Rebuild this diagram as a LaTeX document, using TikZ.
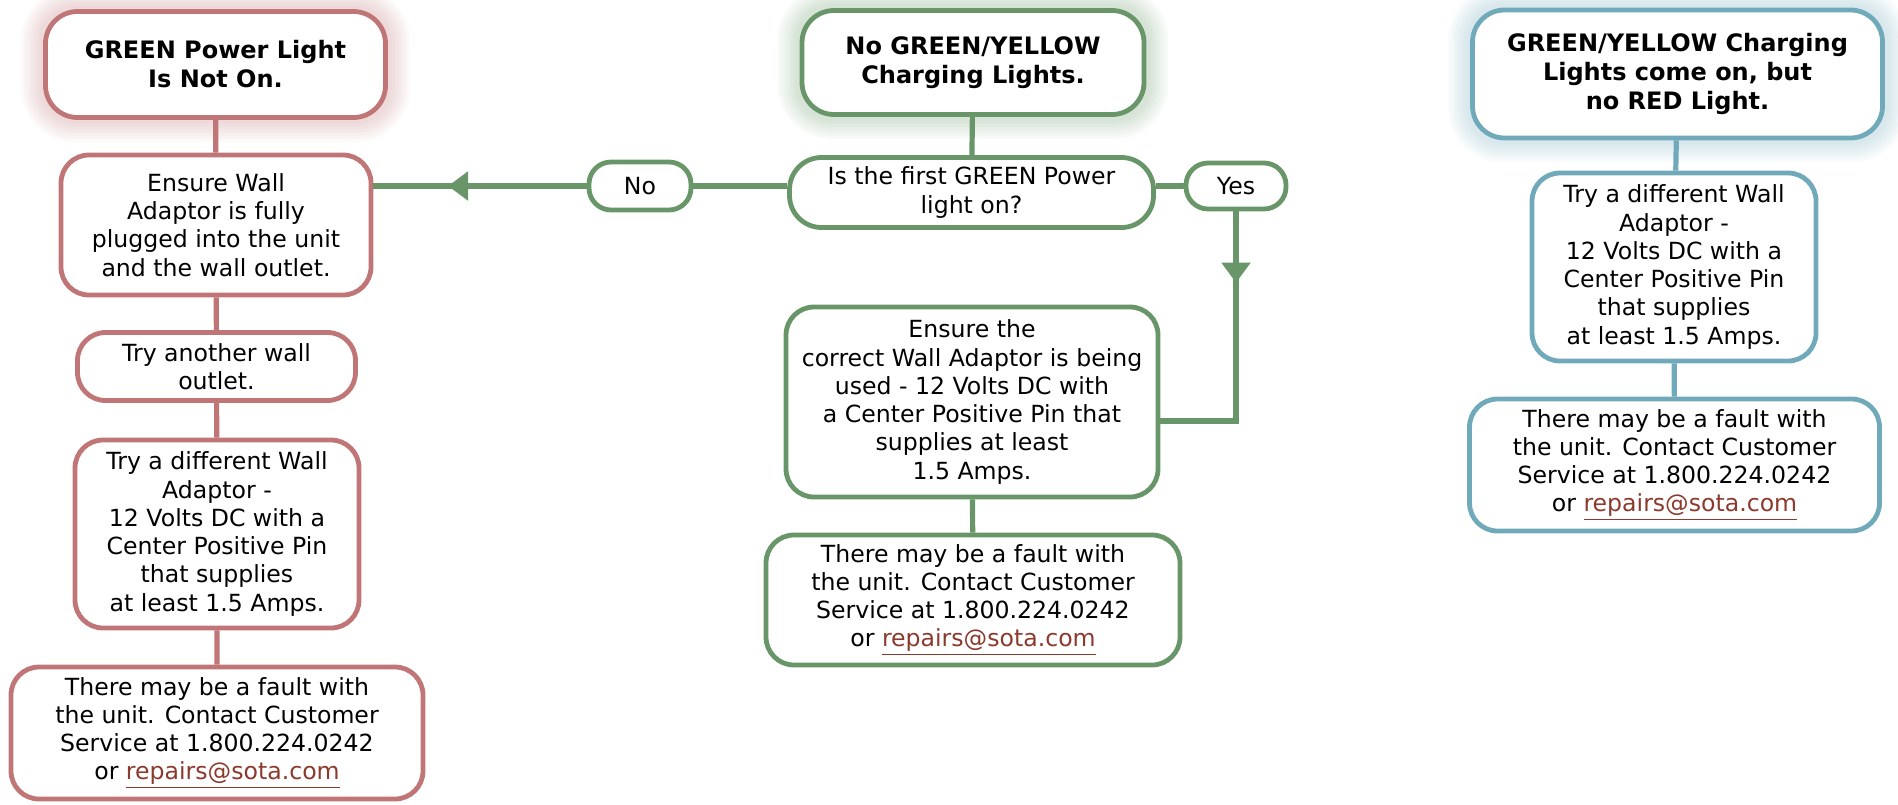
\documentclass[tikz,border=0pt]{standalone}
\usepackage{fontspec}
\setmainfont{DejaVu Sans}
\usetikzlibrary{arrows.meta, decorations.markings, backgrounds}
\definecolor{rc}{RGB}{192,118,118}
\definecolor{gc}{RGB}{104,150,104}
\definecolor{bc}{RGB}{112,170,186}
\definecolor{lc}{RGB}{140,58,45}
\newcommand{\sotamail}{\textcolor{lc}{\underline{repairs@sota.com}}}
\tikzset{ box/.style = { rectangle
                       , draw
                       , fill         = white
                       , line width   = 2.4pt
                       , rounded corners = 14pt
                       , align        = center
                       , inner sep    = 1pt
                       , font = \fontsize{11.8}{14.15}\selectfont
                       },
          hd/.style = { box
                      , rounded corners = 16pt
                      , font = \fontsize{12}{14.5}\selectfont\bfseries
                      },
          wire/.style = { line width = 2.6pt },
          midarr/.style = { postaction = {decorate}
                          , decoration = {markings,
                              mark = at position #1 with
                              {\arrow{Triangle[length=10pt,width=14pt]}}}
                          }
        }

\begin{document}
\begin{tikzpicture}[x=0.5pt, y=-0.5pt]
    \useasboundingbox (0,0) rectangle (1898,804);
    % left column
    \node[hd, draw=rc, minimum width=170pt, minimum height=53pt] (h1) at (215.5,64.5)
        {GREEN Power Light\\ Is Not On.};
    \node[box, draw=rc, minimum width=155pt, minimum height=70pt] (r1) at (216,225)
        {Ensure Wall\\ Adaptor is fully\\ plugged into the unit\\ and the wall outlet.};
    \node[box, draw=rc, minimum width=139pt, minimum height=34pt] (r2) at (216.5,366.5)
        {Try another wall\\ outlet.};
    \node[box, draw=rc, minimum width=142pt, minimum height=94pt] (r3) at (217,534)
        {Try a different Wall\\ Adaptor -\\ 12 Volts DC with a\\ Center Positive Pin\\ that supplies\\ at least 1.5 Amps.};
    \node[box, draw=rc, minimum width=206pt, minimum height=66pt] (r4) at (217,733)
        {There may be a fault with\\ the unit. Contact Customer\\ Service at 1.800.224.0242\\ or \sotamail};
    % middle column
    \node[hd, draw=gc, minimum width=171pt, minimum height=52pt] (h2) at (973,62.5)
        {No GREEN/YELLOW\\ Charging Lights.};
    \node[box, draw=gc, minimum width=182pt, minimum height=35pt, rounded corners=16pt] (q) at (971.5,192.5)
        {Is the first GREEN Power\\ light on?};
    \node[box, draw=gc, minimum width=51pt, minimum height=24pt, rounded corners=11pt] (no) at (640,186)
        {No};
    \node[box, draw=gc, minimum width=50pt, minimum height=23pt, rounded corners=11pt] (yes) at (1236,186)
        {Yes};
    \node[box, draw=gc, minimum width=186pt, minimum height=95pt] (c1) at (972,402)
        {Ensure the\\ correct Wall Adaptor is being\\ used - 12 Volts DC with\\ a Center Positive Pin that\\ supplies at least\\ 1.5 Amps.};
    \node[box, draw=gc, minimum width=207pt, minimum height=65pt] (c2) at (973,600)
        {There may be a fault with\\ the unit. Contact Customer\\ Service at 1.800.224.0242\\ or \sotamail};
    % right column
    \node[hd, draw=bc, minimum width=205pt, minimum height=64pt] (h3) at (1677.5,74)
        {GREEN/YELLOW Charging\\ Lights come on, but\\ no RED Light.};
    \node[box, draw=bc, minimum width=142pt, minimum height=94pt] (b1) at (1674,267)
        {Try a different Wall\\ Adaptor -\\ 12 Volts DC with a\\ Center Positive Pin\\ that supplies\\ at least 1.5 Amps.};
    \node[box, draw=bc, minimum width=205pt, minimum height=66pt] (b2) at (1674.5,465)
        {There may be a fault with\\ the unit. Contact Customer\\ Service at 1.800.224.0242\\ or \sotamail};

    % soft glow behind the headers
    \begin{scope}[on background layer]
        \foreach \n/\c in {h1/rc, h2/gc, h3/bc}
            \foreach \g in {4,7,...,22}
                \draw[\c, opacity=0.045, line width=\g pt, rounded corners=16pt]
                    (\n.north west) rectangle (\n.south east);
    \end{scope}

    % connectors
    \draw[wire, rc] (h1) -- (r1) (r1) -- (r2) (r2) -- (r3) (r3) -- (r4);
    \draw[wire, gc] (h2) -- (q) (c1) -- (c2);
    \draw[wire, gc] (no.east) -- (no.east -| q.west);
    \draw[wire, gc] (yes.west) -- (yes.west -| q.east);
    \draw[wire, gc, midarr=0.65] (no.west) -- (no.west -| r1.east);
    \draw[wire, gc, midarr=0.25] (yes.south) |- ([yshift=-9.5pt]c1.east);
    \draw[wire, bc] (h3) -- (b1) (b1) -- (b2);
\end{tikzpicture}
\end{document}
